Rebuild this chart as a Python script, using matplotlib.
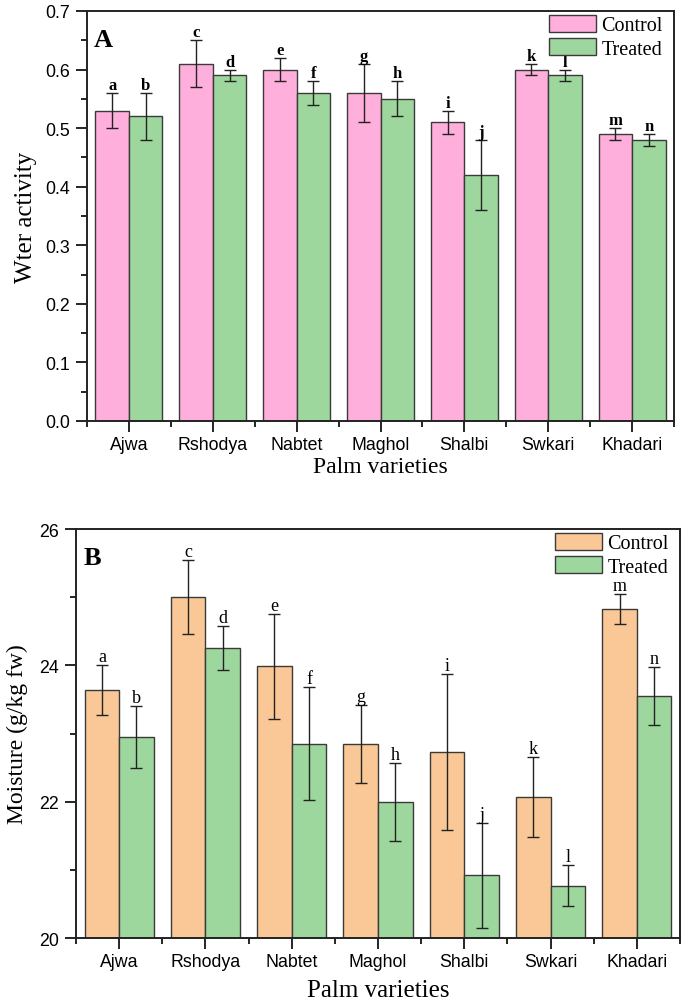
import numpy as np
import matplotlib
matplotlib.use('Agg')
import matplotlib.pyplot as plt
from matplotlib.ticker import MultipleLocator, FixedLocator

SERIF = 'Liberation Serif'
SANS = 'Liberation Sans'

varieties = ['Ajwa', 'Rshodya', 'Nabtet', 'Maghol', 'Shalbi', 'Swkari', 'Khadari']

# panel A - water activity
aw_control = [0.53, 0.61, 0.60, 0.56, 0.51, 0.60, 0.49]
aw_control_err = [0.03, 0.04, 0.02, 0.05, 0.02, 0.01, 0.01]
aw_treated = [0.52, 0.59, 0.56, 0.55, 0.42, 0.59, 0.48]
aw_treated_err = [0.04, 0.01, 0.02, 0.03, 0.06, 0.01, 0.01]

# panel B - moisture
mo_control = [23.64, 25.00, 23.99, 22.85, 22.73, 22.07, 24.83]
mo_control_err = [0.37, 0.54, 0.77, 0.57, 1.14, 0.59, 0.22]
mo_treated = [22.95, 24.25, 22.85, 22.00, 20.92, 20.77, 23.55]
mo_treated_err = [0.45, 0.32, 0.83, 0.57, 0.77, 0.30, 0.43]

letters_control = ['a', 'c', 'e', 'g', 'i', 'k', 'm']
letters_treated = ['b', 'd', 'f', 'h', 'j', 'l', 'n']

PINK = '#FFAFDB'
GREEN = '#9ED79E'
PEACH = '#F9C896'
EDGE = '#3a3a3a'


def draw_panel(ax, ctrl, ctrl_err, trt, trt_err, ctrl_color, letter_weight, letter_size, width_px):
    x = np.arange(len(varieties))
    w = 0.4
    ekw = dict(ecolor='#222222', elinewidth=1.0, capsize=4, capthick=1.0)
    ax.bar(x - w / 2, ctrl, w, color=ctrl_color, edgecolor=EDGE, linewidth=1.0,
           yerr=ctrl_err, error_kw=ekw, label='Control', zorder=2)
    ax.bar(x + w / 2, trt, w, color=GREEN, edgecolor=EDGE, linewidth=1.0,
           yerr=trt_err, error_kw=ekw, label='Treated', zorder=2)
    for i in range(len(varieties)):
        ax.annotate(letters_control[i], (x[i] - w / 2, ctrl[i] + ctrl_err[i]),
                    xytext=(0, 0), textcoords='offset points', ha='center', va='bottom',
                    fontsize=letter_size, fontweight=letter_weight, family=SERIF)
        ax.annotate(letters_treated[i], (x[i] + w / 2, trt[i] + trt_err[i]),
                    xytext=(0, 0), textcoords='offset points', ha='center', va='bottom',
                    fontsize=letter_size, fontweight=letter_weight, family=SERIF)
    ax.set_xlim(-0.5, len(varieties) - 0.5)
    ax.set_xticks(x)
    ax.set_xticklabels(varieties, family=SANS, fontsize=12.8)
    ax.xaxis.set_minor_locator(FixedLocator(np.arange(-0.5, len(varieties), 1.0)))
    ax.tick_params(axis='both', which='major', direction='out', length=8, width=1.2)
    ax.tick_params(axis='both', which='minor', direction='out', length=4, width=1.2)
    ax.tick_params(axis='x', which='major', pad=3)
    ax.tick_params(axis='y', which='major', pad=4, labelsize=12.8)
    for s in ax.spines.values():
        s.set_linewidth(1.4)
        s.set_color('#222222')
    leg = ax.legend(loc='upper right', bbox_to_anchor=(1 - 7 / width_px, 1), frameon=False,
                    prop={'family': SERIF, 'size': 14.5},
                    handlelength=2.3, handleheight=0.9, handletextpad=0.3,
                    labelspacing=0.15, borderaxespad=0.1, borderpad=0.1)
    for p in leg.get_patches():
        p.set_edgecolor(EDGE)


fig = plt.figure(figsize=(6.85, 10.03), dpi=100)

axA = fig.add_axes([87 / 685, 1 - 422 / 1003, (674 - 87) / 685, (422 - 12) / 1003])
draw_panel(axA, aw_control, aw_control_err, aw_treated, aw_treated_err, PINK, 'bold', 12, 587)
axA.set_ylim(0, 0.7)
axA.yaxis.set_major_locator(MultipleLocator(0.1))
axA.yaxis.set_minor_locator(MultipleLocator(0.05))
axA.yaxis.set_major_formatter(matplotlib.ticker.FormatStrFormatter('%.1f'))
for lab in axA.get_yticklabels():
    lab.set_family(SANS)
axA.set_ylabel('Wter activity', family=SERIF, fontsize=18, labelpad=6)
axA.set_xlabel('Palm varieties', family=SERIF, fontsize=17, labelpad=2)
axA.text(0.012, 0.93, 'A', transform=axA.transAxes, family=SERIF, fontsize=19,
         fontweight='bold', ha='left', va='center')

axB = fig.add_axes([76 / 685, 1 - 939 / 1003, (680 - 76) / 685, (939 - 530) / 1003])
draw_panel(axB, mo_control, mo_control_err, mo_treated, mo_treated_err, PEACH, 'normal', 13, 604)
axB.set_ylim(20, 26)
axB.yaxis.set_major_locator(MultipleLocator(2))
axB.yaxis.set_minor_locator(MultipleLocator(1))
for lab in axB.get_yticklabels():
    lab.set_family(SANS)
axB.set_ylabel('Moisture (g/kg fw)', family=SERIF, fontsize=17, labelpad=8)
axB.set_xlabel('Palm varieties', family=SERIF, fontsize=18, labelpad=6)
axB.text(0.012, 0.93, 'B', transform=axB.transAxes, family=SERIF, fontsize=19,
         fontweight='bold', ha='left', va='center')

fig.savefig('out.png', dpi=100)
